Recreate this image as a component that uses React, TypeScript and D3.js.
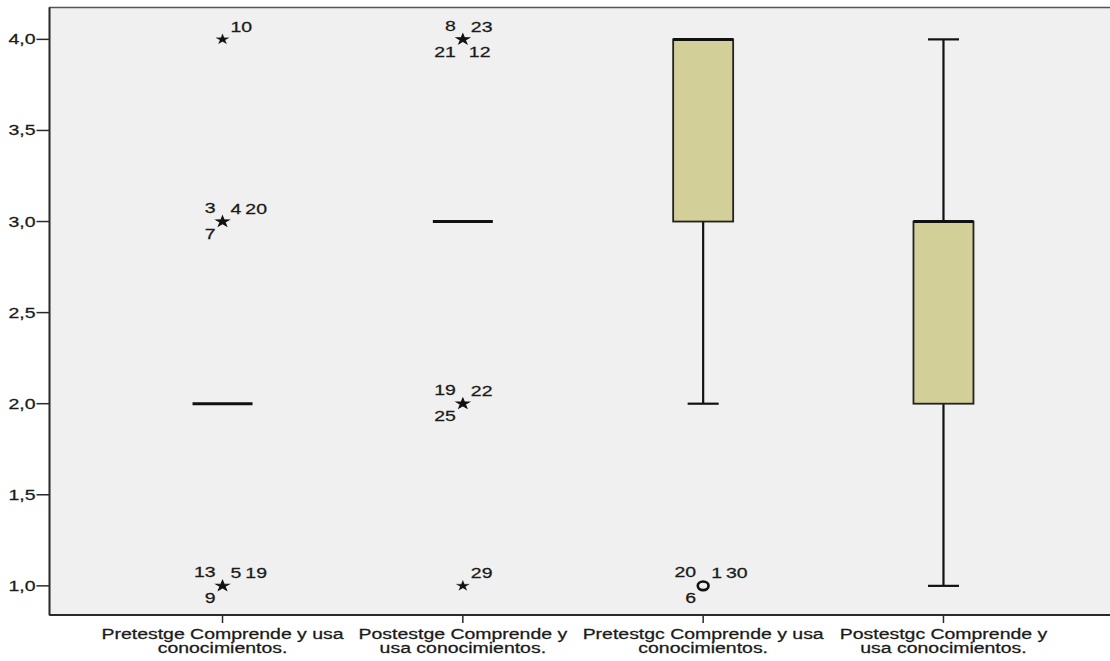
import React from "react";
import * as d3 from "d3";

// Variables on the x axis (two lines per label)
const categories = [
  ["Pretestge Comprende y usa", "conocimientos."],
  ["Postestge Comprende y", "usa conocimientos."],
  ["Pretestgc Comprende y usa", "conocimientos."],
  ["Postestgc Comprende y", "usa conocimientos."],
];

// Five-number summaries per variable
const whiskerLow = [2, 3, 2, 1];
const boxQ1 = [2, 3, 3, 2];
const boxMedian = [2, 3, 4, 3];
const boxQ3 = [2, 3, 4, 3];
const whiskerHigh = [2, 3, 4, 4];

// Outliers: variable index, value, marker kind and the case numbers at that point
const outlierCategory = [0, 0, 0, 1, 1, 1, 2];
const outlierValue = [4, 3, 1, 4, 2, 1, 1];
const outlierKind = ["extreme", "extreme", "extreme", "extreme", "extreme", "extreme", "mild"];
const outlierCases = [
  ["10"],
  ["3", "4", "20", "7"],
  ["13", "5", "19", "9"],
  ["8", "23", "21", "12"],
  ["19", "22", "25"],
  ["29"],
  ["20", "1", "30", "6"],
];

// Y axis ticks
const yTicks = [1.0, 1.5, 2.0, 2.5, 3.0, 3.5, 4.0];

const W = 1110;
const H = 661;
const left = 49.5;
const right = 1116.5;
const top = 7.5;
const bottom = 615;
const SX = 1.39; // horizontal stretch of the exported chart
const FONT = "'Liberation Sans', Arial, sans-serif";

// Placement of case labels around a marker
const labelSlots = [
  ["ur"],
  ["ul", "ur", "ur2", "ll"],
  ["ul", "ur", "ur2", "ll"],
  ["ul", "ur", "ll", "lr"],
  ["ul", "ur", "ll"],
  ["ur"],
  ["ul", "ur", "ur2", "ll"],
];

function SText({ x, y, anchor = "start", size = 14, children }: any) {
  return (
    <text
      transform={`translate(${x},${y}) scale(${SX},1)`}
      textAnchor={anchor}
      fontFamily={FONT}
      fontSize={size}
      fill="#1a1a1a"
      stroke="#1a1a1a"
      strokeWidth={0.25}
    >
      {children}
    </text>
  );
}

export default function App() {
  const x = d3
    .scalePoint<number>()
    .domain(d3.range(categories.length))
    .range([left, right])
    .padding(0.72);
  const y = d3.scaleLinear().domain([0.84, 4.175]).range([bottom, top]);

  const boxW = 60;
  const capW = 31;
  const star = d3.symbol().type(d3.symbolStar).size(34)();
  const digitW = 14 * 0.556 * SX;

  return (
    <svg
      width={W}
      height={H}
      style={{ position: "absolute", left: 0, top: 0, background: "#fff" }}
    >
      {/* plot background and frame */}
      <rect x={left} y={top} width={right - left} height={bottom - top} fill="#f0f0f0" stroke="#555" strokeWidth={1.5} />
      <line x1={left} x2={left} y1={top} y2={bottom} stroke="#2a2a2a" strokeWidth={1.8} />
      <line x1={left} x2={right} y1={bottom} y2={bottom} stroke="#2a2a2a" strokeWidth={1.8} />

      {/* y axis */}
      {yTicks.map((t) => (
        <g key={t}>
          <line x1={left - 13} x2={left} y1={y(t)} y2={y(t)} stroke="#2a2a2a" strokeWidth={1.5} />
          <SText x={left - 14} y={y(t) + 5} anchor="end">
            {d3.format(".1f")(t).replace(".", ",")}
          </SText>
        </g>
      ))}

      {/* x axis */}
      {categories.map((lines, i) => (
        <g key={i}>
          <line x1={x(i)} x2={x(i)} y1={bottom} y2={bottom + 8} stroke="#2a2a2a" strokeWidth={1.5} />
          <SText x={x(i)} y={639} anchor="middle">{lines[0]}</SText>
          <SText x={x(i)} y={653} anchor="middle">{lines[1]}</SText>
        </g>
      ))}

      {/* boxes */}
      {categories.map((_, i) => {
        const cx = x(i) as number;
        const collapsed = boxQ1[i] === boxQ3[i];
        return (
          <g key={i}>
            {whiskerLow[i] < boxQ1[i] && (
              <>
                <line x1={cx} x2={cx} y1={y(boxQ1[i])} y2={y(whiskerLow[i])} stroke="#111" strokeWidth={2.2} />
                <line x1={cx - capW / 2} x2={cx + capW / 2} y1={y(whiskerLow[i])} y2={y(whiskerLow[i])} stroke="#111" strokeWidth={2.2} />
              </>
            )}
            {whiskerHigh[i] > boxQ3[i] && (
              <>
                <line x1={cx} x2={cx} y1={y(boxQ3[i])} y2={y(whiskerHigh[i])} stroke="#111" strokeWidth={2.2} />
                <line x1={cx - capW / 2} x2={cx + capW / 2} y1={y(whiskerHigh[i])} y2={y(whiskerHigh[i])} stroke="#111" strokeWidth={2.2} />
              </>
            )}
            {!collapsed && (
              <rect
                x={cx - boxW / 2}
                y={y(boxQ3[i])}
                width={boxW}
                height={y(boxQ1[i]) - y(boxQ3[i])}
                fill="#d3cf99"
                stroke="#222"
                strokeWidth={1.8}
              />
            )}
            <line
              x1={cx - boxW / 2}
              x2={cx + boxW / 2}
              y1={y(boxMedian[i])}
              y2={y(boxMedian[i])}
              stroke="#111"
              strokeWidth={3}
            />
          </g>
        );
      })}

      {/* outliers with case labels */}
      {outlierCases.map((cases, k) => {
        const cx = x(outlierCategory[k]) as number;
        const cy = y(outlierValue[k]);
        const slots = labelSlots[k];
        let urEnd = cx + 9;
        return (
          <g key={k}>
            {outlierKind[k] === "extreme" ? (
              <path
                d={star as string}
                transform={`translate(${cx},${cy}) scale(1.25,1)`}
                fill="#111"
                stroke="#111"
                strokeWidth={cases.length > 1 ? 0.9 : 0.2}
              />
            ) : (
              <ellipse cx={cx} cy={cy} rx={5.4} ry={4.3} fill="none" stroke="#111" strokeWidth={2.6} />
            )}
            {cases.map((c, j) => {
              const s = slots[j];
              if (s === "ul") return <SText key={j} x={cx - 7} y={cy - 8.5} anchor="end">{c}</SText>;
              if (s === "ll") return <SText key={j} x={cx - 7} y={cy + 17.5} anchor="end">{c}</SText>;
              if (s === "lr") return <SText key={j} x={cx + 6} y={cy + 17.5}>{c}</SText>;
              if (s === "ur") {
                const sx = cx + 8;
                urEnd = sx + c.length * digitW;
                return <SText key={j} x={sx} y={cy - 7.5}>{c}</SText>;
              }
              return <SText key={j} x={urEnd + 4} y={cy - 7.5}>{c}</SText>;
            })}
          </g>
        );
      })}
    </svg>
  );
}
